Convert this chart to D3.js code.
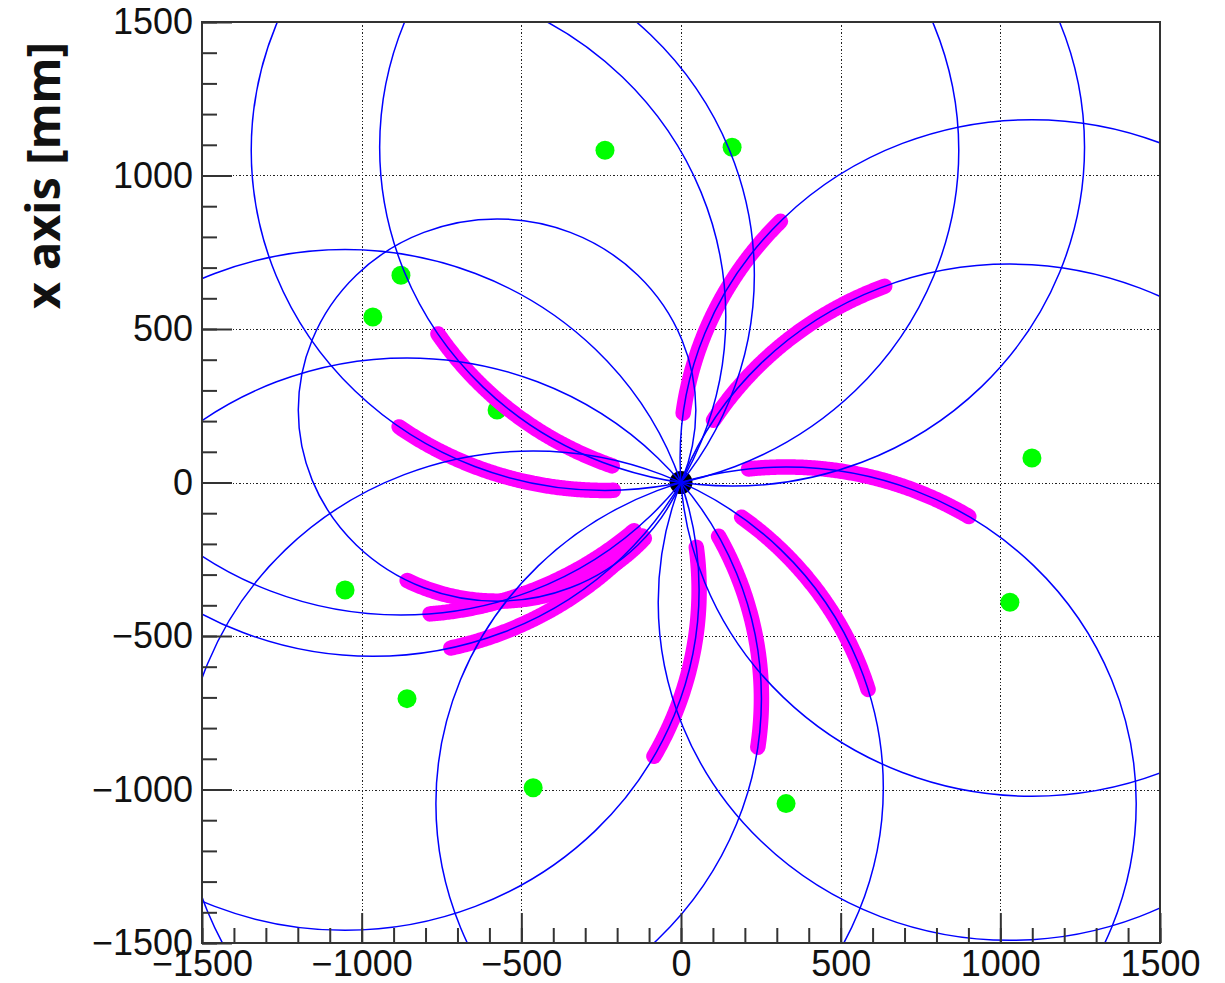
<!DOCTYPE html>
<html>
<head>
<meta charset="utf-8">
<script src="https://cdn.jsdelivr.net/npm/d3@7"></script>
<style>
  body { margin: 0; background: white; }
  svg { display: block; }
</style>
</head>
<body>
<div id="chart"></div>
<script>
// track circle centres (mm)
const centerX = [-238, 160, -877, -965, -576, 1099, 1030, -1052, -858, -463, 329];
const centerY = [1082, 1092, 675, 539, 236, 80, -390, -350, -704, -994, -1046];

// radial extent of the hits on each track (mm from vertex)
const hitRMin = [213, 222, 215, 212, 215, 226, 227, 216, 211, 221, 216];
const hitRMax = [904, 903, 898, 903, 917, 907, 906, 896, 898, 893, 910];

// vertex
const vertexX = [0];
const vertexY = [0];

const majorTicks = [-1500, -1000, -500, 0, 500, 1000, 1500];
const gridTicks = [-1000, -500, 0, 500, 1000];
const minorTicks = d3.range(-1500, 1501, 100);

const W = 1225, H = 983;
const frame = { left: 202, right: 1160, top: 22, bottom: 943 };

const svg = d3.select('#chart').append('svg')
  .attr('width', W).attr('height', H)
  .style('background', 'white');

const x = d3.scaleLinear().domain([-1500, 1500]).range([frame.left, frame.right]);
const y = d3.scaleLinear().domain([-1500, 1500]).range([frame.bottom, frame.top]);

svg.append('defs').append('clipPath').attr('id', 'frameClip')
  .append('rect')
  .attr('x', frame.left).attr('y', frame.top)
  .attr('width', frame.right - frame.left).attr('height', frame.bottom - frame.top);

/*
  grid - dotted, snapped to pixels so the dots stay dark
*/
const snap = v => Math.round(v) + 0.5;
const grid = svg.append('g')
  .attr('stroke', '#222')
  .attr('stroke-width', 1.2)
  .attr('stroke-dasharray', '1.4,2')
  .attr('shape-rendering', 'crispEdges');

grid.selectAll('line.gx').data(gridTicks).join('line')
  .attr('class', 'gx')
  .attr('x1', d => snap(x(d))).attr('x2', d => snap(x(d)))
  .attr('y1', frame.top).attr('y2', frame.bottom);

grid.selectAll('line.gy').data(gridTicks).join('line')
  .attr('class', 'gy')
  .attr('y1', d => snap(y(d))).attr('y2', d => snap(y(d)))
  .attr('x1', frame.left).attr('x2', frame.right);

const plot = svg.append('g').attr('clip-path', 'url(#frameClip)');

// every track is a circle through the vertex, turning clockwise
const tracks = centerX.map((cx, i) => {
  const cy = centerY[i];
  const R = Math.hypot(cx, cy);
  const phi0 = Math.atan2(-cy, -cx);
  const hits = d3.range(hitRMin[i], hitRMax[i] + 0.1, 4).map(d => {
    const a = phi0 - 2 * Math.asin(d / (2 * R));
    return [cx + R * Math.cos(a), cy + R * Math.sin(a)];
  });
  return { cx, cy, R, hits };
});

//centres
plot.selectAll('circle.centre').data(tracks).join('circle')
  .attr('class', 'centre')
  .attr('cx', d => x(d.cx)).attr('cy', d => y(d.cy))
  .attr('r', 9.5)
  .attr('fill', '#00ff00');

//hits
const line = d3.line().x(p => x(p[0])).y(p => y(p[1]));
plot.selectAll('path.hits').data(tracks).join('path')
  .attr('class', 'hits')
  .attr('d', d => line(d.hits))
  .attr('fill', 'none')
  .attr('stroke', '#ff00ff')
  .attr('stroke-width', 15.5)
  .attr('stroke-linecap', 'round')
  .attr('stroke-linejoin', 'round');

//vertex
plot.selectAll('circle.vertex').data(vertexX).join('circle')
  .attr('class', 'vertex')
  .attr('cx', (d, i) => x(d)).attr('cy', (d, i) => y(vertexY[i]))
  .attr('r', 11.5)
  .attr('fill', 'black');

//fitted circles
plot.selectAll('ellipse.fit').data(tracks).join('ellipse')
  .attr('class', 'fit')
  .attr('cx', d => x(d.cx)).attr('cy', d => y(d.cy))
  .attr('rx', d => x(d.R) - x(0))
  .attr('ry', d => y(0) - y(d.R))
  .attr('fill', 'none')
  .attr('stroke', '#0000ff')
  .attr('stroke-width', 1.5);

/*
  axes - ticks point inwards
*/
const axisColor = '#333';
const fmt = d => d < 0 ? '\u2212' + Math.abs(d) : String(d);

const styleAxis = g => {
  g.select('.domain').remove();
  g.selectAll('line').attr('stroke', axisColor).attr('stroke-width', 2);
  g.selectAll('text')
    .attr('fill', '#111')
    .style('font-family', '"Liberation Sans", Arial, sans-serif')
    .style('font-size', '36px');
};

svg.append('g').attr('transform', `translate(0,${frame.bottom})`)
  .call(d3.axisBottom(x).tickValues(minorTicks).tickSize(-15).tickFormat(''))
  .call(styleAxis);
svg.append('g').attr('transform', `translate(0,${frame.bottom})`)
  .call(d3.axisBottom(x).tickValues(majorTicks).tickSize(-30).tickPadding(7).tickFormat(fmt))
  .call(styleAxis);

svg.append('g').attr('transform', `translate(${frame.left},0)`)
  .call(d3.axisLeft(y).tickValues(minorTicks).tickSize(-15).tickFormat(''))
  .call(styleAxis);
svg.append('g').attr('transform', `translate(${frame.left},0)`)
  .call(d3.axisLeft(y).tickValues(majorTicks).tickSize(-30).tickPadding(9).tickFormat(fmt))
  .call(styleAxis);

//frame
svg.append('rect')
  .attr('x', frame.left).attr('y', frame.top)
  .attr('width', frame.right - frame.left).attr('height', frame.bottom - frame.top)
  .attr('fill', 'none')
  .attr('stroke', axisColor)
  .attr('stroke-width', 2);

//axis title
svg.append('text')
  .attr('transform', `translate(60,42) rotate(-90)`)
  .attr('text-anchor', 'end')
  .style('font-family', '"Noto Sans", "Open Sans", sans-serif')
  .style('font-weight', 'bold')
  .style('font-size', '47px')
  .attr('fill', '#111')
  .text('x axis [mm]');
</script>
</body>
</html>
